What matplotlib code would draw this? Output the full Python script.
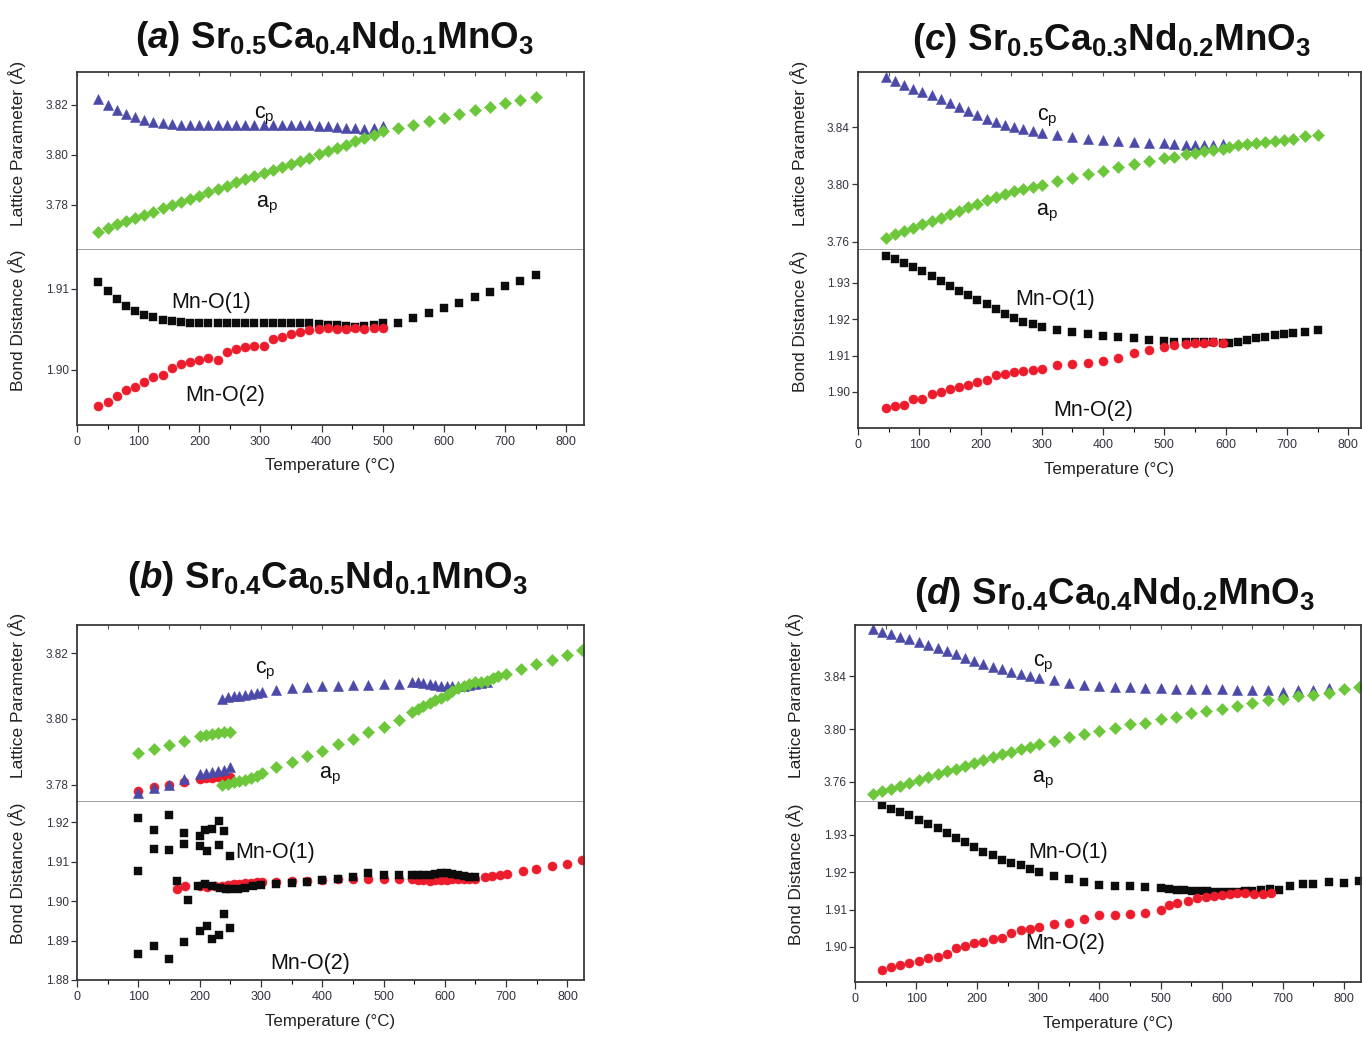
import matplotlib

matplotlib.use("Agg")

import matplotlib.pyplot as plt
from matplotlib.ticker import MultipleLocator

plt.rcParams["font.family"] = "Liberation Sans"
plt.rcParams["mathtext.fontset"] = "custom"
plt.rcParams["mathtext.rm"] = "Liberation Sans"
plt.rcParams["mathtext.it"] = "Liberation Sans:italic:bold"
plt.rcParams["mathtext.bf"] = "Liberation Sans:bold"

BLUE = "#4b4aa8"
GREEN = "#6cc83a"
RED = "#ec1c2c"
BLACK = "#0c0c0c"

# ---------------- (a) Sr0.5Ca0.4Nd0.1MnO3 ----------------
a_T1 = [35, 50, 65, 80, 95, 110, 125, 140, 155, 170, 185, 200, 215, 230, 245, 260,
        275, 290, 305, 320, 335, 350, 365, 380, 395, 410, 425, 440, 455, 470, 485, 500]
a_T2 = [525, 550, 575, 600, 625, 650, 675, 700, 725, 750]
a_cp = [3.8224, 3.8200, 3.8181, 3.8165, 3.8152, 3.8141, 3.8133, 3.8128, 3.8124, 3.8122,
        3.8121, 3.8120, 3.8120, 3.8120, 3.8120, 3.8120, 3.8120, 3.8120, 3.8120, 3.8120,
        3.8120, 3.8120, 3.8120, 3.8119, 3.8118, 3.8116, 3.8113, 3.8110, 3.8106, 3.8104,
        3.8106, 3.8117]
a_ap1 = [3.7692, 3.7708, 3.7722, 3.7735, 3.7748, 3.7760, 3.7773, 3.7786, 3.7799, 3.7812,
         3.7825, 3.7838, 3.7851, 3.7864, 3.7877, 3.7890, 3.7903, 3.7916, 3.7929, 3.7941,
         3.7953, 3.7965, 3.7977, 3.7990, 3.8003, 3.8016, 3.8029, 3.8042, 3.8055, 3.8068,
         3.8081, 3.8094]
a_ap2 = [3.8108, 3.8122, 3.8136, 3.8150, 3.8164, 3.8178, 3.8192, 3.8206, 3.8220, 3.8233]
a_mo1_1 = [1.9109, 1.9098, 1.9087, 1.9079, 1.9073, 1.9068, 1.9065, 1.9062, 1.9060, 1.9059,
           1.9058, 1.9058, 1.9058, 1.9058, 1.9058, 1.9058, 1.9058, 1.9058, 1.9058, 1.9058,
           1.9058, 1.9058, 1.9058, 1.9058, 1.9057, 1.9056, 1.9055, 1.9054, 1.9053, 1.9054,
           1.9055, 1.9058]
a_mo1_2 = [1.9058, 1.9064, 1.9070, 1.9077, 1.9083, 1.9090, 1.9096, 1.9103, 1.9110, 1.9117]
a_mo2 = [1.8956, 1.8960, 1.8968, 1.8975, 1.8979, 1.8985, 1.8991, 1.8994, 1.9002, 1.9007,
         1.9010, 1.9012, 1.9015, 1.9012, 1.9022, 1.9026, 1.9028, 1.9029, 1.9030, 1.9038,
         1.9041, 1.9044, 1.9047, 1.9049, 1.9051, 1.9052, 1.9050, 1.9050, 1.9052, 1.9051,
         1.9052, 1.9052]

# ---------------- (c) Sr0.5Ca0.3Nd0.2MnO3 ----------------
c_T1 = [45, 60, 75, 90, 105, 120, 135, 150, 165, 180, 195, 210, 225, 240, 255, 270, 285, 300,
        325, 350, 375, 400, 425, 450, 475, 500, 515, 535, 550, 565, 580, 595]
c_T2 = [605, 620, 635, 650, 665, 680, 695, 710, 730, 750]
c_cp = [3.8748, 3.8720, 3.8694, 3.8668, 3.8643, 3.8620, 3.8597, 3.8569, 3.8540, 3.8511,
        3.8482, 3.8458, 3.8435, 3.8416, 3.8400, 3.8388, 3.8373, 3.8361,
        3.8342, 3.8333, 3.8320, 3.8310, 3.8303, 3.8296, 3.8291, 3.8286, 3.8282,
        3.8275, 3.8273, 3.8273, 3.8274, 3.8280]
c_ap1 = [3.7630, 3.7653, 3.7677, 3.7700, 3.7723, 3.7746, 3.7769, 3.7792, 3.7816, 3.7841,
         3.7865, 3.7889, 3.7912, 3.7934, 3.7954, 3.7970, 3.7985, 3.7999,
         3.8024, 3.8047, 3.8070, 3.8097, 3.8123, 3.8145, 3.8163, 3.8184, 3.8194,
         3.8210, 3.8221, 3.8232, 3.8240, 3.8249]
c_ap2 = [3.8263, 3.8274, 3.8283, 3.8291, 3.8298, 3.8306, 3.8313, 3.8320, 3.8336, 3.8342]
c_mo1_1 = [1.9373, 1.9365, 1.9355, 1.9344, 1.9332, 1.9318, 1.9305, 1.9291, 1.9278, 1.9266,
           1.9254, 1.9242, 1.9228, 1.9213, 1.9202, 1.9193, 1.9186, 1.9179,
           1.9171, 1.9164, 1.9159, 1.9155, 1.9152, 1.9147, 1.9144, 1.9141, 1.9138,
           1.9137, 1.9136, 1.9136, 1.9136, 1.9135]
c_mo1_2 = [1.9135, 1.9138, 1.9143, 1.9147, 1.9152, 1.9156, 1.9159, 1.9162, 1.9165, 1.9171]
c_mo2 = [1.8955, 1.8962, 1.8964, 1.8980, 1.8982, 1.8995, 1.9000, 1.9007, 1.9014, 1.9020,
         1.9027, 1.9032, 1.9047, 1.9050, 1.9055, 1.9057, 1.9061, 1.9064,
         1.9075, 1.9077, 1.9080, 1.9086, 1.9093, 1.9107, 1.9114, 1.9123, 1.9129,
         1.9133, 1.9135, 1.9135, 1.9136, 1.9135]

# ---------------- (b) Sr0.4Ca0.5Nd0.1MnO3 ----------------
b_T_lo = [100, 125, 150, 175, 200, 210, 220, 230, 240, 250]
b_ap_lo = [3.7897, 3.7909, 3.7922, 3.7934, 3.7949, 3.7951, 3.7954, 3.7957, 3.7959, 3.7961]
b_bp_lo = [3.7780, 3.7793, 3.7801, 3.7810, 3.7818, 3.7821, 3.7822, 3.7823, 3.7824, 3.7824]
b_cp_lo = [3.7776, 3.7791, 3.7800, 3.7818, 3.7833, 3.7836, 3.7838, 3.7843, 3.7846, 3.7853]
b_T_hi = [237, 246, 256, 265, 274, 284, 293, 302, 325, 350, 375, 400, 425, 450, 475, 500, 525,
          546, 556, 565, 575, 584, 594, 603, 612, 622, 631, 640, 650, 659, 668]
b_cp_hi = [3.8062, 3.8066, 3.8069, 3.8071, 3.8074, 3.8076, 3.8079, 3.8081,
           3.8089, 3.8093, 3.8096, 3.8099, 3.8101, 3.8103, 3.8104, 3.8105, 3.8106,
           3.8111, 3.8111, 3.8109, 3.8106, 3.8103, 3.8101, 3.8099, 3.8099, 3.8099,
           3.8101, 3.8103, 3.8106, 3.8109, 3.8113]
b_ap_hi = [3.7800, 3.7803, 3.7808, 3.7813, 3.7816, 3.7820, 3.7828, 3.7836,
           3.7853, 3.7870, 3.7889, 3.7904, 3.7924, 3.7939, 3.7959, 3.7977, 3.7998,
           3.8022, 3.8030, 3.8038, 3.8049, 3.8056, 3.8063, 3.8073, 3.8086, 3.8093,
           3.8099, 3.8106, 3.8111, 3.8113, 3.8116]
b_T_ap = [678, 687, 699, 724, 749, 774, 799, 824]
b_ap_end = [3.8124, 3.8130, 3.8137, 3.8152, 3.8167, 3.8179, 3.8195, 3.8208]
b_sc_T = [100, 100, 100, 125, 125, 125, 150, 150, 150, 175, 175, 175, 163, 181, 200, 200, 200,
          209, 212, 212, 221, 221, 231, 231, 231, 240, 240, 250, 250]
b_sc_v = [1.9211, 1.9077, 1.8866, 1.9181, 1.9131, 1.8887, 1.9218, 1.9129, 1.8852, 1.9173,
          1.9144, 1.8897, 1.9051, 1.9003, 1.9165, 1.9139, 1.8925, 1.9179, 1.9126, 1.8938,
          1.9182, 1.8903, 1.9203, 1.9143, 1.8915, 1.9178, 1.8967, 1.9114, 1.8932]
b_T_mo1 = [197, 209, 221, 234, 243, 250, 262, 274, 287, 300, 325, 350, 375, 400, 425, 450,
           475, 500, 525, 546, 556, 565, 575, 584, 594, 603, 612, 622, 631, 640, 650]
b_mo1 = [1.9039, 1.9043, 1.9037, 1.9034, 1.9030, 1.9030, 1.9030, 1.9032, 1.9037, 1.9040,
         1.9043, 1.9045, 1.9049, 1.9053, 1.9057, 1.9060, 1.9071, 1.9067, 1.9067,
         1.9067, 1.9066, 1.9066, 1.9066, 1.9068, 1.9071, 1.9071, 1.9068, 1.9066, 1.9063,
         1.9060, 1.9060]
b_T_mo2 = [163, 176, 200, 212, 225, 237, 246, 256, 265, 274, 284, 293, 302, 325, 350, 375,
           400, 425, 450, 475, 500, 525, 546, 556, 565, 575, 584, 594, 603, 612, 622, 631,
           640, 650, 665, 677, 690, 702, 727, 749, 774, 799, 824]
b_mo2 = [1.9030, 1.9039, 1.9037, 1.9035, 1.9037, 1.9037, 1.9040, 1.9043, 1.9043, 1.9045,
         1.9046, 1.9048, 1.9048, 1.9049, 1.9051, 1.9051, 1.9053, 1.9055, 1.9055, 1.9055,
         1.9057, 1.9055, 1.9055, 1.9054, 1.9053, 1.9051, 1.9053, 1.9053, 1.9053, 1.9055,
         1.9055, 1.9057, 1.9057, 1.9057, 1.9060, 1.9064, 1.9067, 1.9069, 1.9077, 1.9082,
         1.9089, 1.9095, 1.9104]

# ---------------- (d) Sr0.4Ca0.4Nd0.2MnO3 ----------------
d_T_lat = [29, 44, 59, 74, 89, 104, 119, 135, 150, 165, 180, 195, 210, 225, 241, 256, 271,
           286, 301, 325, 350, 375, 400, 425, 450, 475, 500, 525, 550, 575, 600, 625, 650,
           675, 700, 725, 750, 775, 800, 825]
d_cp = [3.8755, 3.8732, 3.8718, 3.8698, 3.8676, 3.8656, 3.8636, 3.8614, 3.8589, 3.8564,
        3.8539, 3.8514, 3.8489, 3.8470, 3.8450, 3.8432, 3.8415, 3.8400, 3.8388,
        3.8370, 3.8345, 3.8333, 3.8325, 3.8320, 3.8316, 3.8313, 3.8308, 3.8303, 3.8301,
        3.8301, 3.8301, 3.8296, 3.8296, 3.8291, 3.8283, 3.8291, 3.8296, 3.8308]
d_ap = [3.7506, 3.7530, 3.7550, 3.7570, 3.7593, 3.7612, 3.7637, 3.7657, 3.7680, 3.7699,
        3.7724, 3.7744, 3.7767, 3.7786, 3.7811, 3.7829, 3.7849, 3.7866, 3.7886,
        3.7911, 3.7943, 3.7960, 3.7985, 3.8010, 3.8035, 3.8047, 3.8072, 3.8092, 3.8117,
        3.8134, 3.8154, 3.8176, 3.8196, 3.8216, 3.8229, 3.8246, 3.8253, 3.8271, 3.8301,
        3.8316]
d_T_mo1 = [44, 59, 74, 89, 104, 119, 135, 150, 165, 180, 195, 210, 225, 241, 256, 271, 286,
           301, 325, 350, 375, 400, 425, 450, 475, 500, 514, 527, 539, 552, 564, 576, 588,
           600, 613, 625, 638, 650, 665, 679, 694, 712, 733, 750, 776, 800, 824]
d_mo1 = [1.9379, 1.9370, 1.9361, 1.9352, 1.9341, 1.9330, 1.9318, 1.9304, 1.9292, 1.9280,
         1.9267, 1.9255, 1.9245, 1.9234, 1.9225, 1.9218, 1.9209, 1.9200,
         1.9191, 1.9182, 1.9173, 1.9167, 1.9164, 1.9162, 1.9160, 1.9158,
         1.9155, 1.9153, 1.9152, 1.9150, 1.9150, 1.9149, 1.9148, 1.9148, 1.9148, 1.9148,
         1.9149, 1.9150, 1.9152, 1.9155, 1.9152, 1.9162, 1.9168, 1.9168, 1.9174, 1.9170,
         1.9177]
d_T_mo2 = [44, 59, 74, 89, 104, 119, 135, 150, 165, 180, 195, 210, 225, 241, 256, 271, 286,
           301, 325, 350, 375, 400, 425, 450, 475, 500, 514, 527, 545, 560, 575, 588, 600,
           613, 625, 638, 653, 668, 680]
d_mo2 = [1.8938, 1.8946, 1.8952, 1.8956, 1.8961, 1.8969, 1.8974, 1.8980, 1.8996, 1.9003,
         1.9010, 1.9014, 1.9021, 1.9025, 1.9038, 1.9045, 1.9049, 1.9054,
         1.9061, 1.9065, 1.9076, 1.9085, 1.9085, 1.9088, 1.9092, 1.9100, 1.9113, 1.9118,
         1.9124, 1.9130, 1.9133, 1.9136, 1.9139, 1.9142, 1.9144, 1.9145, 1.9141, 1.9141,
         1.9144]

W, H = 1362, 1039


def frac_box(x0, x1, y_top, y_bot):
    return [x0 / W, 1 - y_bot / H, (x1 - x0) / W, (y_bot - y_top) / H]


def make_panel(fig, x0, x1, y_top, y_mid, y_bot, xmax, lat_lim, lat_step, bond_lim, bond_step):
    ax_lat = fig.add_axes(frac_box(x0, x1, y_top, y_mid))
    ax_bond = fig.add_axes(frac_box(x0, x1, y_mid, y_bot))

    for ax in (ax_lat, ax_bond):
        ax.set_xlim(0, xmax)
        ax.xaxis.set_major_locator(MultipleLocator(100))
        ax.xaxis.set_minor_locator(MultipleLocator(50))
        for side in ("left", "right", "top", "bottom"):
            ax.spines[side].set_color("#3a3a3a")
            ax.spines[side].set_linewidth(1.3)
        ax.tick_params(axis="y", direction="out", length=4, width=0.9, labelsize=8.5,
                       colors="#333340", pad=2)
        ax.yaxis.label.set_color("#222222")

    ax_lat.spines["bottom"].set_color("#858585")
    ax_lat.spines["bottom"].set_linewidth(1.1)
    ax_bond.spines["top"].set_visible(False)

    ax_lat.set_ylim(*lat_lim)
    ax_lat.yaxis.set_major_locator(MultipleLocator(lat_step))
    ax_lat.yaxis.set_major_formatter("{x:.2f}")
    ax_lat.tick_params(axis="x", which="both", bottom=False, labelbottom=False,
                       top=True, direction="in", length=3, width=0.8, colors="#555555")

    ax_bond.set_ylim(*bond_lim)
    ax_bond.yaxis.set_major_locator(MultipleLocator(bond_step))
    ax_bond.yaxis.set_major_formatter("{x:.2f}")
    ax_bond.tick_params(axis="x", which="major", direction="out", length=5, width=0.9,
                        labelsize=9, colors="#333340", pad=3)
    ax_bond.tick_params(axis="x", which="minor", direction="out", length=3, width=0.8)

    ax_lat.set_ylabel("Lattice Parameter (Å)", fontsize=12.5)
    ax_lat.yaxis.set_label_coords(-0.1, 0.6)
    ax_bond.set_ylabel("Bond Distance (Å)", fontsize=12.5)
    ax_bond.yaxis.set_label_coords(-0.1, 0.6)
    ax_bond.set_xlabel("Temperature (°C)", fontsize=12.2, color="#222222")
    ax_bond.xaxis.set_label_coords(0.5, -0.19)
    return ax_lat, ax_bond


def tri(ax, x, y):
    ax.plot(x, y, ls="none", marker="^", ms=7, color=BLUE, mec=BLUE, mew=0.4)


def dia(ax, x, y):
    ax.plot(x, y, ls="none", marker="D", ms=6, color=GREEN, mec=GREEN, mew=0.4)


def sq(ax, x, y):
    ax.plot(x, y, ls="none", marker="s", ms=5.4, color=BLACK, mec=BLACK, mew=0.3)


def circ(ax, x, y):
    ax.plot(x, y, ls="none", marker="o", ms=6.5, color=RED, mec=RED, mew=0.4)


def labels(ax_lat, ax_bond, cp_xy, ap_xy, m1_xy, m2_xy):
    kw = dict(fontsize=15.5, color="#111111", ha="center", va="center")
    ax_lat.text(*cp_xy, r"c$_\mathrm{p}$", **kw)
    ax_lat.text(*ap_xy, r"a$_\mathrm{p}$", **kw)
    ax_bond.text(*m1_xy, "Mn-O(1)", **kw)
    ax_bond.text(*m2_xy, "Mn-O(2)", **kw)


fig = plt.figure(figsize=(W / 100, H / 100), dpi=100, facecolor="white")

# (a)
la, ba = make_panel(fig, 77, 584, 72, 250, 425, 829, (3.762, 3.8332), 0.02, (1.8932, 1.9148), 0.01)
tri(la, a_T1, a_cp)
dia(la, a_T1, a_ap1)
dia(la, a_T2, a_ap2)
sq(ba, a_T1, a_mo1_1)
sq(ba, a_T2, a_mo1_2)
circ(ba, a_T1, a_mo2)
labels(la, ba, (307, 3.8158), (310, 3.7800), (220, 1.9083), (242, 1.8968))

# (c)
lc, bc = make_panel(fig, 858, 1361, 72, 250, 428, 821, (3.7544, 3.8783), 0.04, (1.8901, 1.9390), 0.01)
tri(lc, c_T1, c_cp)
dia(lc, c_T1, c_ap1)
dia(lc, c_T2, c_ap2)
sq(bc, c_T1, c_mo1_1)
sq(bc, c_T2, c_mo1_2)
circ(bc, c_T1, c_mo2)
labels(lc, bc, (309, 3.8463), (309, 3.7805), (322, 1.9253), (384, 1.8948))

# (b)
lb, bb = make_panel(fig, 77, 584, 625, 802, 980, 827, (3.7748, 3.8285), 0.02, (1.88, 1.9251), 0.01)
dia(lb, b_T_lo, b_ap_lo)
circ(lb, b_T_lo, b_bp_lo)
tri(lb, b_T_lo, b_cp_lo)
tri(lb, b_T_hi, b_cp_hi)
dia(lb, b_T_hi, b_ap_hi)
dia(lb, b_T_ap, b_ap_end)
circ(bb, b_T_mo2, b_mo2)
sq(bb, b_T_mo1, b_mo1)
sq(bb, b_sc_T, b_sc_v)
labels(lb, bb, (307, 3.8145), (413, 3.7827), (323, 1.9123), (380, 1.8843))

# (d)
ld, bd = make_panel(fig, 855, 1361, 625, 802, 982, 828, (3.7449, 3.8785), 0.04, (1.8906, 1.9388), 0.01)
tri(ld, d_T_lat[:len(d_cp)], d_cp)
dia(ld, d_T_lat, d_ap)
sq(bd, d_T_mo1, d_mo1)
circ(bd, d_T_mo2, d_mo2)
labels(ld, bd, (309, 3.8490), (308, 3.7615), (349, 1.9252), (344, 1.9008))

titles = [
    (335, 38, r"$\mathbf{(}\mathit{a}\mathbf{)\ Sr_{0.5}Ca_{0.4}Nd_{0.1}MnO_3}$"),
    (1112, 40, r"$\mathbf{(}\mathit{c}\mathbf{)\ Sr_{0.5}Ca_{0.3}Nd_{0.2}MnO_3}$"),
    (328, 578, r"$\mathbf{(}\mathit{b}\mathbf{)\ Sr_{0.4}Ca_{0.5}Nd_{0.1}MnO_3}$"),
    (1115, 594, r"$\mathbf{(}\mathit{d}\mathbf{)\ Sr_{0.4}Ca_{0.4}Nd_{0.2}MnO_3}$"),
]
for x, y, s in titles:
    fig.text(x / W, 1 - y / H, s, fontsize=26.5, ha="center", va="center", color="#111111")

fig.savefig("out.png", dpi=100, facecolor="white")
